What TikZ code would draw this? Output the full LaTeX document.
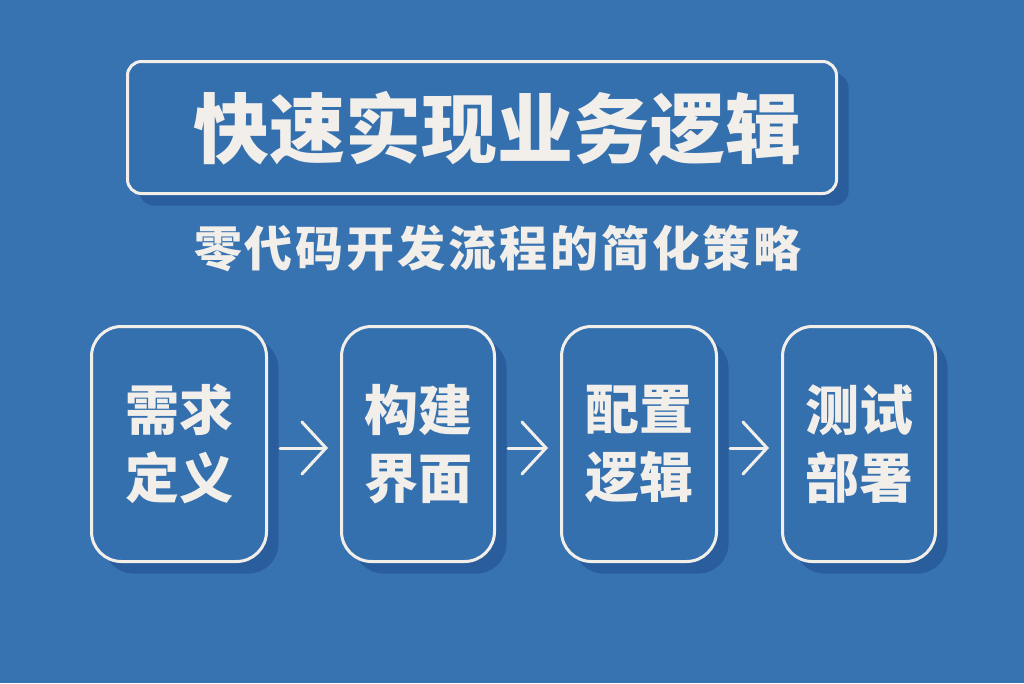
\documentclass[tikz,border=0pt]{standalone}
\usepackage{fontspec}
\newfontfamily\cjk{Noto Sans CJK SC}
\newfontfamily\cjksp{Noto Sans CJK SC}[LetterSpace=6]
\usetikzlibrary{arrows.meta,shadows}
\definecolor{bgcol}{HTML}{3873B1}
\definecolor{boxcol}{HTML}{346FAE}
\definecolor{shadowcol}{HTML}{295D9B}
\definecolor{txtcol}{HTML}{F2EFEA}
\tikzset{
  panel/.style={draw=txtcol, line width=3pt, fill=boxcol,
    general shadow={shadow xshift=12pt, shadow yshift=-12pt, fill=shadowcol}},
  stepbox/.style={panel, rounded corners=30pt, minimum width=154pt, minimum height=235pt,
    text=txtcol, align=center, font=\cjk\bfseries\fontsize{54}{68}\selectfont, inner sep=0pt},
  flow/.style={draw=txtcol, line width=3pt, line cap=round,
    -{Straight Barb[length=24pt, width=52pt, line cap=round]}, shorten >=12pt, shorten <=12pt}
}
\begin{document}
\begin{tikzpicture}[x=1pt, y=-1pt]
\useasboundingbox (0,0) rectangle (1024,683);
\fill[bgcol] (0,0) rectangle (1024,683);
\node[panel, rounded corners=14pt, minimum width=709pt, minimum height=132pt] (titlebox) at (482,127.5) {};
\node[text=txtcol, font=\cjk\bfseries\fontsize{76}{80}\selectfont, inner sep=0pt] (title) at (497,128) {快速实现业务逻辑};
\node[text=txtcol, font=\cjksp\bfseries\fontsize{48}{52}\selectfont, inner sep=0pt] (subtitle) at (498,248) {零代码开发流程的简化策略};
\node[stepbox, minimum width=175pt] (s1) at (179,444) {需求\\定义};
\node[stepbox, minimum width=153pt] (s2) at (418,444) {构建\\界面};
\node[stepbox, minimum width=155pt] (s3) at (639,444) {配置\\逻辑};
\node[stepbox, minimum width=153pt] (s4) at (859,444) {测试\\部署};
\draw[flow] (s1.east |- 0,448) -- (s2.west |- 0,448);
\draw[flow] (s2.east |- 0,448) -- (s3.west |- 0,448);
\draw[flow] (s3.east |- 0,448) -- (s4.west |- 0,448);
\end{tikzpicture}
\end{document}
